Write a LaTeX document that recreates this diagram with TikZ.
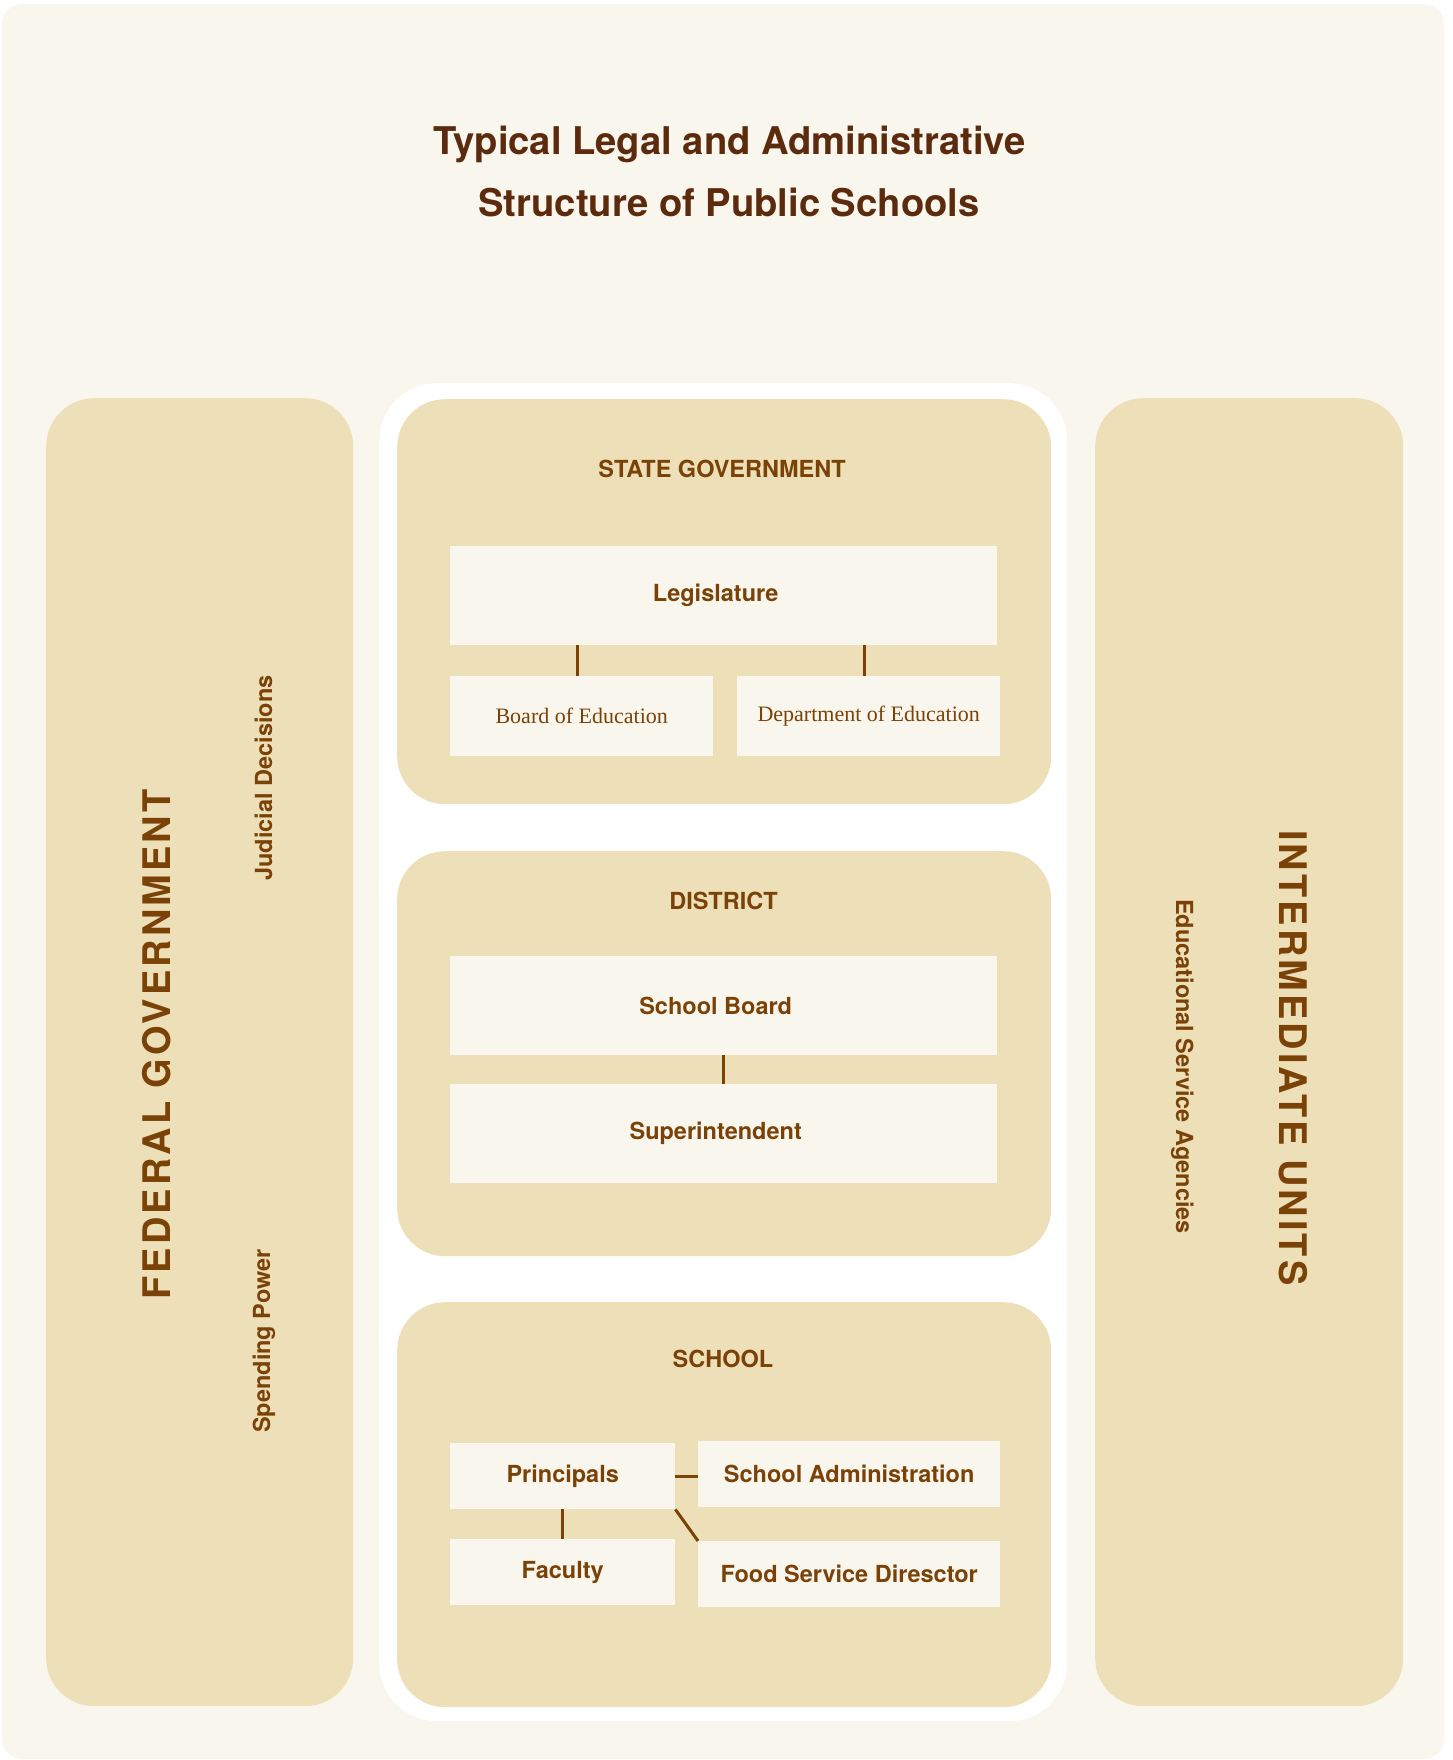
\documentclass[tikz,border=0pt]{standalone}
\usepackage{fontspec}
\setmainfont{TeX Gyre Heros}
\newfontfamily\spacedsans{TeX Gyre Heros}[LetterSpace=8]
\newfontfamily\bookserif{Liberation Serif}

\definecolor{paper}{HTML}{F9F6EE}
\definecolor{panelbeige}{HTML}{EDDFB8}
\definecolor{labelbrown}{HTML}{7B4208}
\definecolor{titlebrown}{HTML}{5C2B0E}

\begin{document}
\begin{tikzpicture}[x=1pt,y=-1pt,
    panel/.style={anchor=north west,fill=panelbeige,rounded corners=48pt,inner sep=0pt},
    entry/.style={anchor=north west,fill=paper,inner sep=0pt,text=labelbrown,
      font=\fontsize{23.5}{28}\selectfont\bfseries},
    wideentry/.style={entry,execute at begin node=\hspace*{-16pt}},
    serifentry/.style={entry,font=\bookserif\fontsize{22}{26}\selectfont},
    heading/.style={anchor=base,inner sep=0pt,text=labelbrown,
      font=\fontsize{23.5}{28}\selectfont\bfseries},
    bigheading/.style={heading,font=\spacedsans\bfseries\fontsize{38}{40}\selectfont},
    titleline/.style={anchor=base,inner sep=0pt,text=titlebrown,
      font=\fontsize{38.2}{40}\selectfont\bfseries},
    link/.style={draw=labelbrown,line width=3pt}]

  \useasboundingbox (0,0) rectangle (1452,1760);
  \fill [white] (0,0) rectangle (1452,1760);
  \fill [paper,rounded corners=20pt] (2,4) rectangle (1444,1759);

  \node [titleline] (title1) at (729.5,155) {Typical Legal and Administrative};
  \node [titleline] (title2) at (729,217) {Structure of Public Schools};

  % side columns
  \node [panel,minimum width=307,minimum height=1308] (federal) at (46,398) {};
  \node [panel,minimum width=308,minimum height=1308] (intermediate) at (1095,398) {};

  \node [bigheading,rotate=90] (federallab) at (170,1044.5) {FEDERAL GOVERNMENT};
  \node [heading,rotate=90] (judicial) at (272,778) {Judicial Decisions};
  \node [heading,rotate=90] (spending) at (270,1341) {Spending Power};

  \node [bigheading,rotate=-90] (intermediatelab) at (1279,1058) {INTERMEDIATE UNITS};
  \node [heading,rotate=-90] (esa) at (1176,1066.5) {Educational Service Agencies};

  % white frame holding the three levels
  \node [panel,fill=white,rounded corners=58pt,minimum width=688,minimum height=1338] (levels) at (379,383) {};
  \node [panel,minimum width=654,minimum height=405] (state) at (397,399) {};
  \node [panel,minimum width=654,minimum height=405] (district) at (397,851) {};
  \node [panel,minimum width=654,minimum height=405] (school) at (397,1302) {};

  \node [heading] (statelab) at (722,477) {STATE GOVERNMENT};
  \node [heading] (districtlab) at (723.5,909) {DISTRICT};
  \node [heading] (schoollab) at (723,1367) {SCHOOL};

  % state
  \node [wideentry,minimum width=547,minimum height=99] (Legislature) at (450,546) {Legislature};
  \node [serifentry,minimum width=263,minimum height=80] (BoardEd) at (450,676) {Board of Education};
  \node [serifentry,minimum width=263,minimum height=80] (DeptEd) at (737,676) {Department of Education};

  % district
  \node [wideentry,minimum width=547,minimum height=99] (SchoolBoard) at (450,956) {School Board};
  \node [wideentry,minimum width=547,minimum height=99] (Superintendent) at (450,1084) {Superintendent};

  % school
  \node [entry,minimum width=225,minimum height=66] (Principals) at (450,1443) {Principals};
  \node [entry,minimum width=302,minimum height=66] (SchoolAdmin) at (698,1441) {School Administration};
  \node [entry,minimum width=225,minimum height=66] (Faculty) at (450,1539) {Faculty};
  \node [entry,minimum width=302,minimum height=66] (FoodService) at (698,1541) {Food Service Diresctor};

  \path [link]
    ([xshift=-4pt]Legislature.south -| BoardEd.north) edge ([xshift=-4pt]BoardEd.north)
    ([xshift=-4pt]Legislature.south -| DeptEd.north)  edge ([xshift=-4pt]DeptEd.north)
    (SchoolBoard.south)      edge (Superintendent.north)
    (Principals.east)        edge (Principals.east -| SchoolAdmin.west)
    (Principals.south)       edge (Faculty.north)
    (Principals.south east)  edge (FoodService.north west);

\end{tikzpicture}
\end{document}
